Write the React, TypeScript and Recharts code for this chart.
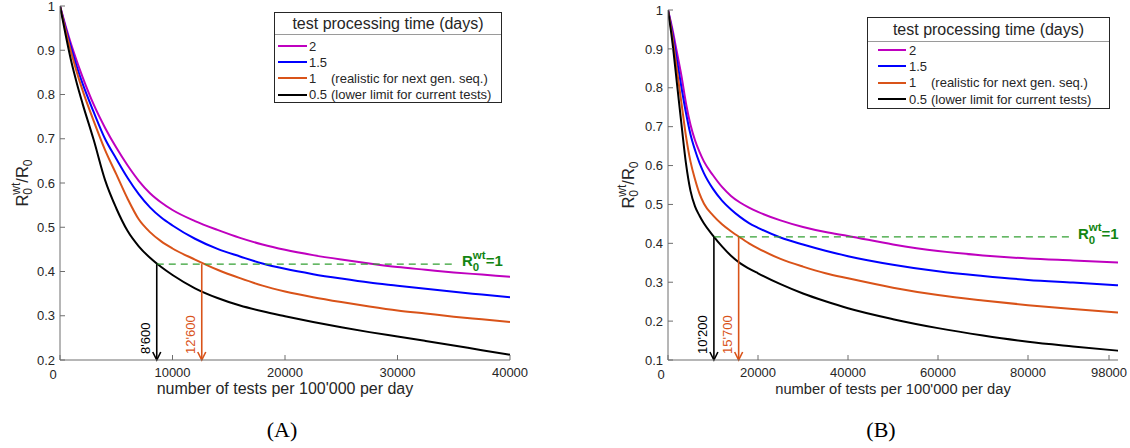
import React from 'react';
import { LineChart, Line, XAxis, YAxis, ReferenceLine } from 'recharts';

// ---------- Panel A data ----------
const xA = [0, 500, 1000, 1500, 2000, 3000, 4000, 5000, 6000, 7000, 8000, 9000, 10000, 12000, 14000, 16000, 18000, 20000, 22500, 25000, 27500, 30000, 32500, 35000, 37500, 40000];
const a2 = [1, 0.955, 0.913, 0.875, 0.84, 0.777, 0.725, 0.68, 0.64, 0.605, 0.577, 0.556, 0.539, 0.514, 0.494, 0.476, 0.461, 0.449, 0.437, 0.427, 0.418, 0.41, 0.404, 0.398, 0.393, 0.388];
const a15 = [1, 0.95, 0.905, 0.862, 0.825, 0.76, 0.7, 0.655, 0.612, 0.575, 0.545, 0.522, 0.504, 0.474, 0.451, 0.434, 0.418, 0.406, 0.394, 0.384, 0.375, 0.368, 0.361, 0.354, 0.348, 0.342];
const a1 = [1, 0.945, 0.895, 0.85, 0.81, 0.74, 0.675, 0.62, 0.565, 0.518, 0.489, 0.468, 0.452, 0.427, 0.404, 0.385, 0.368, 0.355, 0.342, 0.331, 0.321, 0.312, 0.305, 0.298, 0.292, 0.286];
const a05 = [1, 0.935, 0.875, 0.825, 0.78, 0.697, 0.607, 0.543, 0.492, 0.457, 0.431, 0.41, 0.392, 0.362, 0.34, 0.323, 0.31, 0.299, 0.286, 0.274, 0.263, 0.253, 0.243, 0.233, 0.222, 0.212];
const xTicksA = [0, 10000, 20000, 30000, 40000];
const yTicksA = [0.2, 0.3, 0.4, 0.5, 0.6, 0.7, 0.8, 0.9, 1];
const crossA = [8600, 12600];
const crossLabelsA = ["8'600", "12'600"];
const dashEndA = 35200;

// ---------- Panel B data ----------
const xB = [0, 1000, 2000, 3000, 4000, 5000, 6000, 7000, 8000, 10000, 12000, 14000, 16000, 18000, 20000, 25000, 30000, 35000, 40000, 50000, 60000, 70000, 80000, 90000, 100000];
const b2 = [1, 0.95, 0.89, 0.83, 0.76, 0.705, 0.665, 0.635, 0.61, 0.575, 0.545, 0.522, 0.505, 0.492, 0.481, 0.459, 0.442, 0.429, 0.419, 0.397, 0.38, 0.369, 0.361, 0.356, 0.351];
const b15 = [1, 0.94, 0.87, 0.8, 0.735, 0.68, 0.64, 0.607, 0.58, 0.54, 0.51, 0.487, 0.468, 0.452, 0.44, 0.415, 0.397, 0.381, 0.367, 0.345, 0.328, 0.316, 0.306, 0.299, 0.292];
const b1 = [1, 0.93, 0.845, 0.76, 0.675, 0.61, 0.565, 0.528, 0.502, 0.472, 0.449, 0.431, 0.415, 0.4, 0.387, 0.36, 0.34, 0.323, 0.31, 0.286, 0.267, 0.253, 0.241, 0.231, 0.222];
const b05 = [1, 0.915, 0.81, 0.705, 0.605, 0.535, 0.495, 0.471, 0.451, 0.42, 0.392, 0.368, 0.349, 0.335, 0.323, 0.295, 0.271, 0.251, 0.233, 0.205, 0.182, 0.163, 0.147, 0.135, 0.124];
const xTicksB = [0, 20000, 40000, 60000, 80000, 98000];
const yTicksB = [0.1, 0.2, 0.3, 0.4, 0.5, 0.6, 0.7, 0.8, 0.9, 1];
const crossB = [10200, 15700];
const crossLabelsB = ["10'200", "15'700"];
const dashEndB = 89750;

// ---------- shared ----------
const seriesKeys = ['d2', 'd15', 'd1', 'd05'];
const seriesNums = ['2', '1.5', '1', '0.5'];
const seriesNotes = ['', '', '(realistic for next gen. seq.)', '(lower limit for current tests)'];
const seriesColors = ['#BF00BF', '#0000FF', '#D95319', '#000000'];
const crossColors = ['#000000', '#D95319'];
const legendTitle = 'test processing time (days)';
const xLabelText = "number of tests per 100'000 per day";
const threshold = 0.4167;

const FONT = '"Liberation Sans", Arial, Helvetica, sans-serif';
const AXIS = '#6e6e6e';
const TEXT = '#262626';
const GREEN_LINE = '#33a033';
const GREEN_TEXT = '#128512';

function buildRows(xs: number[], cols: number[][]) {
  return xs.map((x, i) => {
    const r: any = { x };
    seriesKeys.forEach((k, j) => { r[k] = cols[j][i]; });
    return r;
  });
}

const rowsA = buildRows(xA, [a2, a15, a1, a05]);
const rowsB = buildRows(xB, [b2, b15, b1, b05]);

const arrowShape = (color: string, label: string) => (p: any) => {
  const x = p.x1;
  const yTop = Math.min(p.y1, p.y2);
  const yBot = Math.max(p.y1, p.y2);
  const tx = x - 6.5;
  const ty = yBot - 6;
  return (
    <g>
      <line x1={x} y1={yTop} x2={x} y2={yBot} stroke={color} strokeWidth={1.6} />
      <polyline points={`${x - 4},${yBot - 8} ${x},${yBot} ${x + 4},${yBot - 8}`} fill="none" stroke={color} strokeWidth={1.6} />
      <text x={tx} y={ty} transform={`rotate(-90 ${tx} ${ty})`} fontSize={13} fill={color} fontFamily={FONT} textAnchor="start">{label}</text>
    </g>
  );
};

const greenLabel = (props: any) => {
  const vb = props.viewBox || {};
  const x = vb.x + vb.width + 6;
  const y = vb.y + 2;
  return (
    <text x={x} y={y} fontSize={15} fontWeight="bold" fill={GREEN_TEXT} fontFamily={FONT}>
      R
      <tspan fontSize={11.5} dy={5}>0</tspan>
      <tspan fontSize={11.5} dx={-6.4} dy={-12.5}>wt</tspan>
      <tspan dy={7.5}>=1</tspan>
    </text>
  );
};

interface PanelProps {
  rows: any[];
  xDomain: [number, number];
  xTicks: number[];
  yDomain: [number, number];
  yTicks: number[];
  cross: number[];
  crossLabels: string[];
  dashEnd: number;
  width: number;
  margin: any;
  xLabelSize: number;
  yLabelShift: number;
}

function Panel(pp: PanelProps) {
  const tickStyle = { fontSize: 13, fill: TEXT, fontFamily: FONT };
  const xTick = (p: any) => (
    <text x={p.x + (p.payload.value === 0 ? -7 : 0)} y={p.y + (p.payload.value === 0 ? 1.5 : 0)} dy="0.71em" textAnchor="middle" fontSize={13} fill={TEXT} fontFamily={FONT}>
      {String(p.payload.value)}
    </text>
  );
  const xLabel = (p: any) => {
    const vb = p.viewBox || {};
    return (
      <text x={vb.x + vb.width / 2} y={vb.y + 34} textAnchor="middle" fontSize={pp.xLabelSize} fill={TEXT} fontFamily={FONT}>{xLabelText}</text>
    );
  };
  const yLabel = (p: any) => {
    const vb = p.viewBox || {};
    const cx = vb.x + pp.yLabelShift;
    const cy = vb.y + vb.height / 2;
    return (
      <text x={cx} y={cy + 5} transform={`rotate(-90 ${cx} ${cy})`} textAnchor="middle" fontSize={16.5} fill={TEXT} fontFamily={FONT}>
        R
        <tspan fontSize={12} dy={4}>0</tspan>
        <tspan fontSize={12} dx={-6.7} dy={-12}>wt</tspan>
        <tspan dy={8}>/R</tspan>
        <tspan fontSize={12} dy={4}>0</tspan>
      </text>
    );
  };
  return (
    <LineChart width={pp.width} height={448} data={pp.rows} margin={pp.margin}>
      <XAxis dataKey="x" type="number" domain={pp.xDomain} ticks={pp.xTicks} allowDataOverflow interval={0}
        tickSize={-5} tickMargin={13} stroke={AXIS} height={30} tick={xTick} label={{ content: xLabel }} />
      <XAxis xAxisId="top" orientation="top" type="number" domain={pp.xDomain} ticks={pp.xTicks} allowDataOverflow interval={0}
        tickSize={-5} stroke={AXIS} height={0} tick={false} />
      <YAxis type="number" domain={pp.yDomain} ticks={pp.yTicks} allowDataOverflow interval={0}
        tickSize={-5} tickMargin={10} stroke={AXIS} width={40} tick={tickStyle} tickFormatter={(v: number) => String(v)}
        label={{ content: yLabel }} />
      <YAxis yAxisId="r" orientation="right" type="number" domain={pp.yDomain} ticks={pp.yTicks} allowDataOverflow interval={0}
        tickSize={-5} stroke={AXIS} width={0} tick={false} />
      {seriesKeys.map((k, i) => (
        <Line key={k} dataKey={k} type="monotone" stroke={seriesColors[i]} strokeWidth={2} dot={false} activeDot={false} isAnimationActive={false} />
      ))}
      <ReferenceLine segment={[{ x: pp.cross[0], y: threshold }, { x: pp.dashEnd, y: threshold }]} stroke={GREEN_LINE}
        strokeWidth={1.2} strokeDasharray="7 5" ifOverflow="visible" label={{ content: greenLabel }} />
      {pp.cross.map((c, i) => (
        <ReferenceLine key={'ar' + i} segment={[{ x: c, y: threshold }, { x: c, y: pp.yDomain[0] }]} ifOverflow="visible"
          stroke={crossColors[i]} shape={arrowShape(crossColors[i], pp.crossLabels[i])} />
      ))}
    </LineChart>
  );
}

function LegendBox(p: { left: number; top: number; width: number; height: number; titleH: number; rowTop: number; rowH: number; lineLeft: number; lineW: number; gap: number }) {
  return (
    <div style={{ position: 'absolute', left: p.left, top: p.top, width: p.width, height: p.height, boxSizing: 'border-box', border: '1px solid #262626', background: '#fff', fontFamily: FONT, color: TEXT }}>
      <div style={{ height: p.titleH, lineHeight: p.titleH + 'px', borderBottom: '1px solid #9a9a9a', textAlign: 'center', fontSize: 16, boxSizing: 'border-box', whiteSpace: 'nowrap' }}>{legendTitle}</div>
      <div style={{ paddingTop: p.rowTop }}>
        {seriesNums.map((n, i) => (
          <div key={n} style={{ height: p.rowH, display: 'flex', alignItems: 'center', fontSize: 13, whiteSpace: 'nowrap' }}>
            <div style={{ marginLeft: p.lineLeft, width: p.lineW, height: 2, background: seriesColors[i] }} />
            <span style={{ marginLeft: p.gap, display: 'inline-block', width: 22 }}>{n}</span>
            <span>{seriesNotes[i]}</span>
          </div>
        ))}
      </div>
    </div>
  );
}

export default function App() {
  return (
    <div style={{ position: 'absolute', left: 0, top: 0, width: 1130, height: 448, background: '#fff', overflow: 'hidden' }}>
      <div style={{ position: 'absolute', left: 0, top: 0 }}>
        <Panel rows={rowsA} xDomain={[0, 40000]} xTicks={xTicksA} yDomain={[0.2, 1]} yTicks={yTicksA}
          cross={crossA} crossLabels={crossLabelsA} dashEnd={dashEndA} width={560}
          margin={{ top: 6, right: 50, bottom: 58, left: 20 }} xLabelSize={16} yLabelShift={3} />
      </div>
      <div style={{ position: 'absolute', left: 560, top: 0 }}>
        <Panel rows={rowsB} xDomain={[0, 100000]} xTicks={xTicksB} yDomain={[0.1, 1]} yTicks={yTicksB}
          cross={crossB} crossLabels={crossLabelsB} dashEnd={dashEndB} width={570}
          margin={{ top: 10, right: 12, bottom: 58, left: 68 }} xLabelSize={14.7} yLabelShift={1} />
      </div>
      <LegendBox left={274} top={12} width={228} height={91} titleH={22} rowTop={3} rowH={16.2} lineLeft={3} lineW={29} gap={2} />
      <LegendBox left={867} top={17} width={243} height={92} titleH={24} rowTop={0} rowH={16.3} lineLeft={10} lineW={28} gap={3} />
      <div style={{ position: 'absolute', left: 252, top: 417, width: 60, textAlign: 'center', fontFamily: '"Liberation Serif", "Times New Roman", serif', fontSize: 22, lineHeight: '26px', color: '#000' }}>(A)</div>
      <div style={{ position: 'absolute', left: 851, top: 417, width: 60, textAlign: 'center', fontFamily: '"Liberation Serif", "Times New Roman", serif', fontSize: 22, lineHeight: '26px', color: '#000' }}>(B)</div>
    </div>
  );
}
